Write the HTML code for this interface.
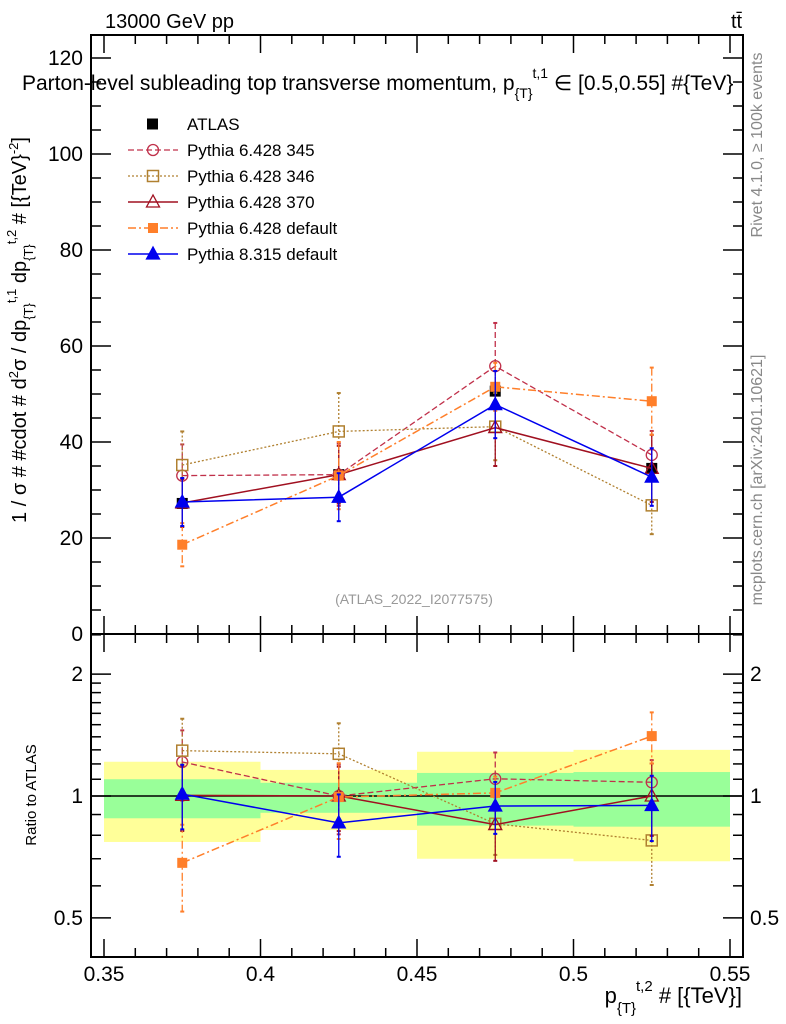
<!DOCTYPE html>
<html><head><meta charset="utf-8"><style>
body{margin:0;background:#fff;}
svg{display:block;font-family:"Liberation Sans",sans-serif;}
</style></head><body>
<svg id="c" width="786" height="1024" viewBox="0 0 786 1024">
<rect width="786" height="1024" fill="#fff"/>
<g id="bands"></g>
<g id="axes"></g>
<g id="series"></g>
<g id="legend"></g>
<text x="105" y="28" font-size="20">13000 GeV pp</text>
<text x="731" y="28" font-size="20">tt̄</text>
<text x="22" y="90" font-size="21">Parton-level subleading top transverse momentum, p<tspan font-size="14" dy="8">{T}</tspan><tspan font-size="14" dy="-20">t,1</tspan><tspan dy="12"> ∈ [0.5,0.55] #{TeV}</tspan></text>
<text transform="translate(26,330) rotate(-90)" text-anchor="middle" font-size="20">1 / σ # #cdot # d<tspan font-size="13" dy="-8">2</tspan><tspan dy="8">σ / dp</tspan><tspan font-size="13" dy="7">{T}</tspan><tspan font-size="13" dy="-17">t,1</tspan><tspan dy="10"> dp</tspan><tspan font-size="13" dy="7">{T}</tspan><tspan font-size="13" dy="-17">t,2</tspan><tspan dy="10"> # [{TeV}</tspan><tspan font-size="13" dy="-8">-2</tspan><tspan dy="8">]</tspan></text>
<text transform="translate(36,795) rotate(-90)" text-anchor="middle" font-size="15">Ratio to ATLAS</text>
<text x="742" y="1003" text-anchor="end" font-size="22">p<tspan font-size="15" dy="10">{T}</tspan><tspan font-size="15" dy="-22">t,2</tspan><tspan dy="12"> # [{TeV}]</tspan></text>
<text transform="translate(762,145) rotate(-90)" text-anchor="middle" font-size="16" fill="#888">Rivet 4.1.0, ≥ 100k events</text>
<text transform="translate(762,480) rotate(-90)" text-anchor="middle" font-size="16" fill="#888">mcplots.cern.ch [arXiv:2401.10621]</text>
<text x="414" y="604" text-anchor="middle" font-size="14" fill="#999">(ATLAS_2022_I2077575)</text>
</svg>
<script>
const binEdges=[0.35,0.4,0.45,0.5,0.55];
const xCenters=[0.375,0.425,0.475,0.525];
const atlas=[27.2,33.2,50.6,34.5];
const yellowLo=[0.77,0.824,0.70,0.69];
const yellowHi=[1.215,1.16,1.286,1.30];
const greenLo=[0.881,0.909,0.845,0.84];
const greenHi=[1.10,1.078,1.14,1.146];
const p345=[33.0,33.2,55.8,37.3];
const p345err=[6.5,6.5,9,5];
const p346=[35.2,42.2,43.2,26.8];
const p346err=[7,8,7,6];
const p370=[27.3,33.2,43.0,34.5];
const p370err=[5,6,8,7];
const pdef=[18.6,33.0,51.5,48.5];
const pdeferr=[4.5,7,5,7];
const p8=[27.5,28.5,47.8,32.7];
const p8err=[5,5,7,6];
const yTicks=[0,20,40,60,80,100,120];
const xTicks=[0.35,0.4,0.45,0.5,0.55];
const rTicks=[0.5,1,2];

const NS="http://www.w3.org/2000/svg";
const L=91,R=743,T=35,MB=634,RB=957;
const X=v=>104+(v-0.35)*3130;
const Y=v=>634-v*4.8;
const RY=v=>796-Math.log10(v)*405;
function mk(tag,at,parent){const e=document.createElementNS(NS,tag);for(const k in at)e.setAttribute(k,at[k]);document.getElementById(parent).appendChild(e);return e;}

for(let i=0;i<4;i++){
 const b1=mk('rect',{x:X(binEdges[i]),y:RY(yellowHi[i]),width:X(binEdges[i+1])-X(binEdges[i]),height:RY(yellowLo[i])-RY(yellowHi[i]),fill:'#ffff99'},'bands');
 
 
 const b2=mk('rect',{x:X(binEdges[i]),y:RY(greenHi[i]),width:X(binEdges[i+1])-X(binEdges[i]),height:RY(greenLo[i])-RY(greenHi[i]),fill:'#99ff99'},'bands');
 
 
}
for(const [t,b] of [[T,MB],[MB,RB]]){
 const f=mk('rect',{x:L,y:t,width:R-L,height:b-t,fill:'none',stroke:'#000','stroke-width':2},'axes');
 
 
}
mk('line',{x1:L,x2:R,y1:RY(1),y2:RY(1),stroke:'#000','stroke-width':1.5},'axes');
for(let v=0.35;v<=0.5501;v+=0.01){
 const maj=Math.abs(v*20-Math.round(v*20))<1e-6, len=maj?18:9, x=X(v);
 for(const [y0,d] of [[T,1],[MB,-1],[MB,1],[RB,-1]]) mk('line',{x1:x,x2:x,y1:y0,y2:y0+d*len,stroke:'#000','stroke-width':1.5},'axes');
}
xTicks.forEach(v=>{const t=mk('text',{x:X(v),y:981,'text-anchor':'middle','font-size':21},'axes');t.textContent=String(v);
 
 });
for(let v=0;v<=124;v+=5){const maj=v%20==0,len=maj?20:10,y=Y(v);
 mk('line',{x1:L,x2:L+len,y1:y,y2:y,stroke:'#000','stroke-width':1.5},'axes');
 mk('line',{x1:R,x2:R-len,y1:y,y2:y,stroke:'#000','stroke-width':1.5},'axes');}
yTicks.forEach(v=>{const t=mk('text',{x:83,y:Y(v)+7,'text-anchor':'end','font-size':21},'axes');t.textContent=v;
 
 });
[0.4,0.5,0.6,0.7,0.8,0.9,1,1.1,1.2,1.3,1.4,1.5,1.6,1.7,1.8,1.9,2,2.5].forEach(v=>{const maj=rTicks.includes(v),len=maj?20:10,y=RY(v);
 mk('line',{x1:L,x2:L+len,y1:y,y2:y,stroke:'#000','stroke-width':1.5},'axes');
 mk('line',{x1:R,x2:R-len,y1:y,y2:y,stroke:'#000','stroke-width':1.5},'axes');});
rTicks.forEach(v=>{for(const [x,a] of [[83,'end'],[750,'start']]){const t=mk('text',{x:x,y:RY(v)+7,'text-anchor':a,'font-size':21},'axes');t.textContent=v;
 
 }});

const series=[
 {name:'Pythia 6.428 345',vals:p345,err:p345err,col:'#c0304a',dash:'6,3',mk:'circle',fill:false,w:1.3},
 {name:'Pythia 6.428 346',vals:p346,err:p346err,col:'#b08030',dash:'2,2',mk:'square',fill:false,w:1.3},
 {name:'Pythia 6.428 370',vals:p370,err:p370err,col:'#a01020',dash:'',mk:'triangle',fill:false,w:1.5},
 {name:'Pythia 6.428 default',vals:pdef,err:pdeferr,col:'#ff7f2a',dash:'8,3,2,3',mk:'square',fill:true,w:1.5},
 {name:'Pythia 8.315 default',vals:p8,err:p8err,col:'#0000ee',dash:'',mk:'triangle',fill:true,w:1.5}
];
function marker(type,x,y,col,fill,parent){
 const f=fill?col:'none';
 if(type=='circle')return mk('circle',{cx:x,cy:y,r:5.5,fill:f,stroke:col,'stroke-width':1.3},parent);
 if(type=='square')return fill?mk('rect',{x:x-5,y:y-5,width:10,height:10,fill:col},parent):mk('rect',{x:x-5.5,y:y-5.5,width:11,height:11,fill:'none',stroke:col,'stroke-width':1.5},parent);
 return mk('polygon',{points:`${x},${y-7} ${x-6.5},${y+5} ${x+6.5},${y+5}`,fill:f,stroke:col,'stroke-width':1.3},parent);
}
function draw(s,yf,vals,errs,ratio){
 const pts=vals.map((v,i)=>X(xCenters[i])+','+yf(v)).join(' ');
 const pl=mk('polyline',{points:pts,fill:'none',stroke:s.col,'stroke-width':s.w,'stroke-dasharray':s.dash},'series');
 
 
 vals.forEach((v,i)=>{const x=X(xCenters[i]),y1=yf(v+errs[i]),y2=yf(Math.max(v-errs[i],0.01));
  mk('line',{x1:x,x2:x,y1:y1,y2:y2,stroke:s.col,'stroke-width':1.3,'stroke-dasharray':s.dash},'series');
  mk('line',{x1:x-2,x2:x+2,y1:y1,y2:y1,stroke:s.col,'stroke-width':2},'series');
  mk('line',{x1:x-2,x2:x+2,y1:y2,y2:y2,stroke:s.col,'stroke-width':2},'series');
  const m=marker(s.mk,x,yf(v),s.col,s.fill,'series');
  
  });
}
atlas.forEach((v,i)=>{const r=mk('rect',{x:X(xCenters[i])-5.5,y:Y(v)-5.5,width:11,height:11,fill:'#000'},'series');
 
 });
series.forEach(s=>{
 draw(s,Y,s.vals,s.err,false);
 draw(s,RY,s.vals.map((v,i)=>v/atlas[i]),s.err.map((e,i)=>e/atlas[i]),true);
});
const ly=[124,150,176,202,228,254];
mk('rect',{x:147,y:ly[0]-5.5,width:11,height:11,fill:'#000'},'legend');
const lt0=mk('text',{x:187,y:ly[0]+6,'font-size':17},'legend');lt0.textContent='ATLAS';


series.forEach((s,i)=>{const y=ly[i+1];
 mk('line',{x1:128,x2:178,y1:y,y2:y,stroke:s.col,'stroke-width':s.w,'stroke-dasharray':s.dash},'legend');
 marker(s.mk,153,y,s.col,s.fill,'legend');
 const t=mk('text',{x:187,y:y+6,'font-size':17},'legend');t.textContent=s.name;
 
 });
</script>
</body></html>
